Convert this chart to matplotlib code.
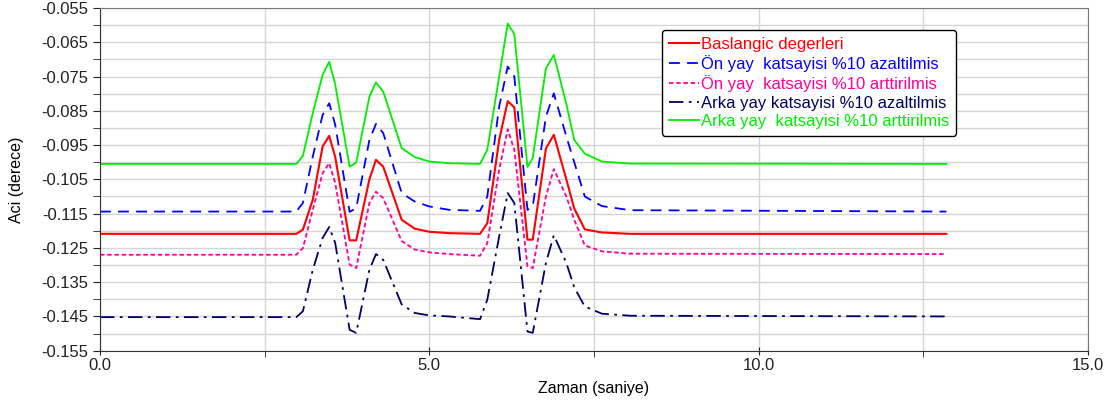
import matplotlib
matplotlib.use("Agg")
import matplotlib.pyplot as plt
from matplotlib.ticker import MultipleLocator, FixedLocator, FuncFormatter

plt.rcParams['font.family'] = ['Liberation Sans', 'DejaVu Sans']

time = [0.0, 2.98, 3.08, 3.23, 3.38, 3.48, 3.57, 3.79, 3.89, 4.09, 4.19, 4.30, 4.58, 4.78, 5.0, 5.3,
        5.77, 5.88, 6.06, 6.19, 6.29, 6.49, 6.57, 6.77, 6.89, 7.08, 7.20, 7.36, 7.62, 8.05, 12.85]

baslangic = [-0.1209, -0.1209, -0.1197, -0.1110, -0.0954, -0.0923, -0.0984, -0.1228, -0.1228, -0.1050,
             -0.0993, -0.1013, -0.1168, -0.1194, -0.1203, -0.1207, -0.1209, -0.1178, -0.0935, -0.0822,
             -0.0840, -0.1226, -0.1226, -0.0960, -0.0920, -0.1050, -0.1135, -0.1196, -0.1205, -0.1209, -0.1209]

on_azalt = [-0.1144, -0.1144, -0.1119, -0.0984, -0.0862, -0.0828, -0.0890, -0.1145, -0.1134, -0.0935,
            -0.0888, -0.0915, -0.1090, -0.1115, -0.1129, -0.1139, -0.1142, -0.1100, -0.0838, -0.0721,
            -0.0750, -0.1139, -0.1129, -0.0867, -0.0799, -0.0925, -0.1000, -0.1100, -0.1128, -0.1140, -0.1144]

on_artir = [-0.1270, -0.1270, -0.1251, -0.1139, -0.1032, -0.1003, -0.1060, -0.1299, -0.1309, -0.1119,
            -0.1086, -0.1105, -0.1230, -0.1255, -0.1263, -0.1268, -0.1273, -0.1236, -0.1022, -0.0904,
            -0.0964, -0.1304, -0.1309, -0.1100, -0.1020, -0.1100, -0.1168, -0.1243, -0.1260, -0.1267, -0.1268]

arka_azalt = [-0.1452, -0.1452, -0.1435, -0.1314, -0.1221, -0.1189, -0.1235, -0.1489, -0.1498, -0.1314,
              -0.1268, -0.1285, -0.1415, -0.1440, -0.1447, -0.1450, -0.1458, -0.1401, -0.1217, -0.1090,
              -0.1119, -0.1494, -0.1498, -0.1294, -0.1213, -0.1294, -0.1365, -0.1421, -0.1442, -0.1448, -0.1450]

arka_artir = [-0.1005, -0.1005, -0.0982, -0.0857, -0.0745, -0.0707, -0.0772, -0.1013, -0.1001, -0.0809,
              -0.0767, -0.0794, -0.0959, -0.0985, -0.0998, -0.1003, -0.1005, -0.0964, -0.0750, -0.0595,
              -0.0626, -0.1014, -0.0988, -0.0726, -0.0687, -0.0830, -0.0935, -0.0975, -0.0998, -0.1004, -0.1005]

labels = ["Baslangic degerleri",
          "Ön yay  katsayisi %10 azaltilmis",
          "Ön yay  katsayisi %10 arttirilmis",
          "Arka yay katsayisi %10 azaltilmis",
          "Arka yay  katsayisi %10 arttirilmis"]

y_ticks = [-0.155, -0.145, -0.135, -0.125, -0.115, -0.105, -0.095, -0.085, -0.075, -0.065, -0.055]
y_minor = [-0.150, -0.140, -0.130, -0.120, -0.110, -0.100, -0.090, -0.080, -0.070, -0.060]

colors = ['#ff0000', '#0000ff', '#ff0099', '#000066', '#00ee00']

fig = plt.figure(figsize=(11.15, 4.05), dpi=100)
ax = fig.add_axes([100/1115, 1 - 350.7/405, 988/1115, 342.7/405])

ax.plot(time, baslangic, color=colors[0], lw=1.5, label=labels[0])
ax.plot(time, on_azalt, color=colors[1], lw=1.3, dashes=(6, 4), label=labels[1])
ax.plot(time, on_artir, color=colors[2], lw=1.3, dashes=(2.5, 1.5), label=labels[2])
ax.plot(time, arka_azalt, color=colors[3], lw=1.3, dashes=(8, 3, 1.5, 3), label=labels[3])
ax.plot(time, arka_artir, color=colors[4], lw=1.3, label=labels[4])

ax.set_xlim(0, 15)
ax.set_ylim(-0.155, -0.055)
ax.xaxis.set_major_locator(MultipleLocator(5))
ax.xaxis.set_minor_locator(MultipleLocator(2.5))
ax.yaxis.set_major_locator(FixedLocator(y_ticks))
ax.yaxis.set_minor_locator(FixedLocator(y_minor))
ax.xaxis.set_major_formatter(FuncFormatter(lambda v, p: f"{v:.1f}"))
ax.yaxis.set_major_formatter(FuncFormatter(lambda v, p: f"{v:.3f}"))
ax.grid(True, which='both', color='#d4d4d4', lw=1)
ax.set_axisbelow(True)
ax.tick_params(axis='both', which='both', labelsize=12, colors='#222222')
ax.tick_params(axis='y', which='major', direction='out', length=5)
ax.tick_params(axis='y', which='minor', direction='out', length=5)
ax.tick_params(axis='x', which='major', direction='inout', length=6)
ax.tick_params(axis='x', which='minor', direction='out', length=4)
ax.tick_params(axis='x', pad=2)
for s in ['left', 'bottom']:
    ax.spines[s].set_color('#333333')
for s in ['top', 'right']:
    ax.spines[s].set_color('#777777')

ax.set_xlabel("Zaman (saniye)", fontsize=11.5, labelpad=6)
ax.set_ylabel("Aci (derece)", fontsize=11.5, labelpad=12)

leg = ax.legend(loc='upper left', bbox_to_anchor=((662-100)/988, (350.7-30)/342.7),
                borderaxespad=0, fontsize=12, handlelength=1.8, handletextpad=0.15,
                labelspacing=0.2, borderpad=0.4, frameon=True, fancybox=True, framealpha=1)
leg.get_frame().set_edgecolor('#000000')
leg.get_frame().set_linewidth(1.0)
for txt, c in zip(leg.get_texts(), colors):
    txt.set_color(c)

fig.savefig("out.png", dpi=100)
